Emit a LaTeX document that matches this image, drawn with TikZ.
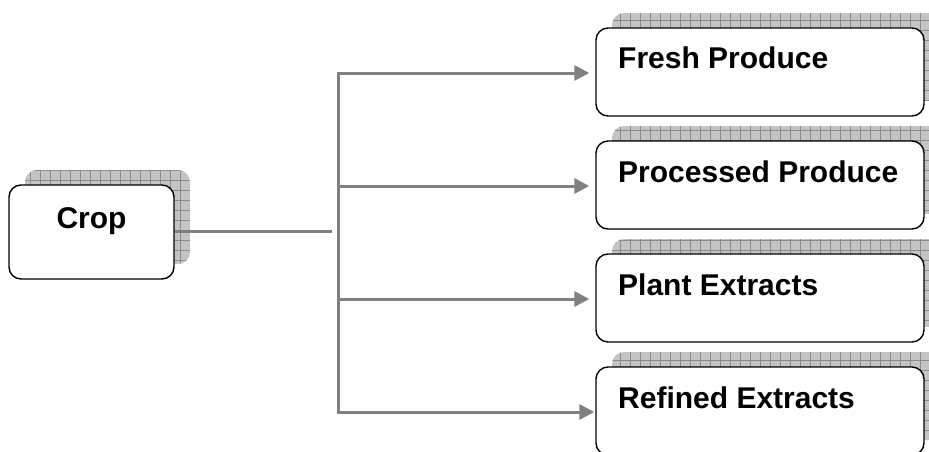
\documentclass[tikz,border=0pt]{standalone}
\usepackage{fontspec}
\setmainfont{Liberation Sans}
\usetikzlibrary{arrows.meta,calc}
\definecolor{conncol}{RGB}{128,128,128}
\definecolor{shadfill}{RGB}{196,196,196}
\definecolor{shadgrid}{RGB}{140,140,140}
\tikzset{
  x=1pt,y=-1pt,
  box/.style={draw=black,line width=1.4pt,rounded corners=12pt,fill=white,inner sep=0pt},
  lbl/.style={font=\bfseries\fontsize{30}{35}\selectfont,inner sep=0pt},
  conn/.style={draw=conncol,line width=3pt},
  arr/.style={conn,-{Triangle[length=15pt,width=15pt]}},
}
\newcommand{\myshadow}[4]{%
  \begin{scope}
    \path[clip,rounded corners=12pt] (#1,#2) rectangle (#3,#4);
    \fill[shadfill] (#1,#2) rectangle (#3,#4);
    \draw[shadgrid,line width=0.6pt,step=10pt] (#1,#2) grid (#3,#4);
  \end{scope}}
\begin{document}
\begin{tikzpicture}
\useasboundingbox (0,0) rectangle (929,451);
% shadows
\myshadow{25}{170}{190}{264}
\myshadow{612}{13}{940}{101}
\myshadow{612}{126}{940}{214}
\myshadow{612}{239}{940}{327}
\myshadow{612}{352}{940}{440}
% boxes
\node[box,minimum width=165pt,minimum height=94pt] (crop) at (91.5,232) {};
\node[lbl,anchor=base] (croplbl) at (91.5,228) {Crop};
\node[box,minimum width=328pt,minimum height=88pt] (fresh) at (760,72) {};
\node[lbl,anchor=base west] (freshlbl) at (618,68) {Fresh Produce};
\node[box,minimum width=328pt,minimum height=88pt] (proc) at (760,185) {};
\node[lbl,anchor=base west] (proclbl) at (618,182) {Processed Produce};
\node[box,minimum width=328pt,minimum height=88pt] (plant) at (760,298) {};
\node[lbl,anchor=base west] (plantlbl) at (618,295) {Plant Extracts};
\node[box,minimum width=328pt,minimum height=88pt] (ref) at (760,411) {};
\node[lbl,anchor=base west] (reflbl) at (618,408) {Refined Extracts};
% connectors
\coordinate (j) at (332,231);
\coordinate (t1) at (338,73);
\coordinate (t2) at (338,186);
\coordinate (t3) at (338,299);
\coordinate (t4) at (338,412);
\draw[conn] (crop.east |- j) -- (j);
\draw[conn] ([yshift=1.5pt]t1) -- ([yshift=-1.5pt]t4);
\draw[arr,shorten >=6pt] (t1) -- (t1 -| fresh.west);
\draw[arr,shorten >=6pt] (t2) -- (t2 -| proc.west);
\draw[arr,shorten >=6pt] (t3) -- (t3 -| plant.west);
\draw[arr,shorten >=1pt] (t4) -- (t4 -| ref.west);
\end{tikzpicture}
\end{document}
